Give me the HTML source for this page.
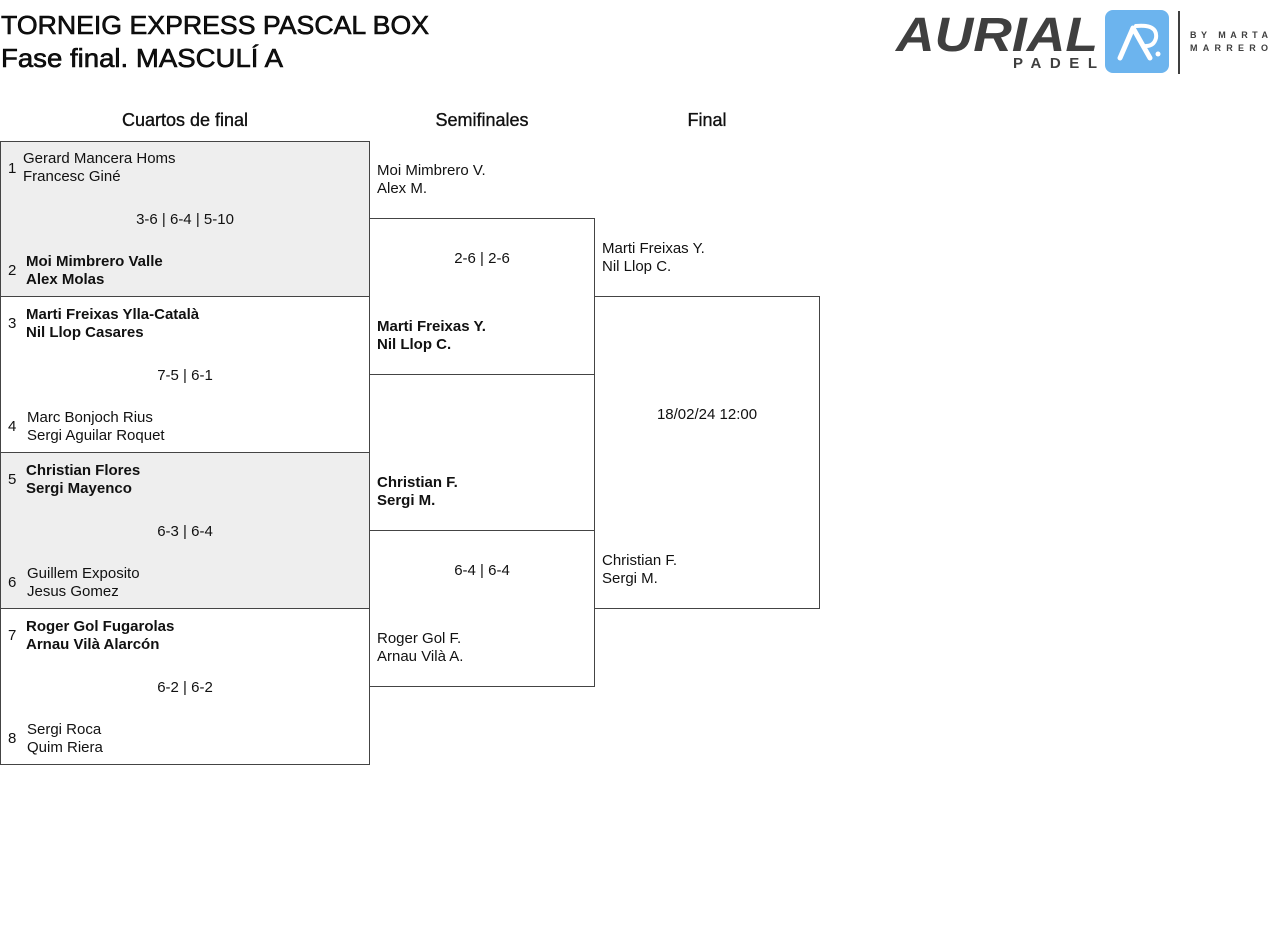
<!DOCTYPE html>
<html><head><meta charset="utf-8"><style>
html,body{margin:0;padding:0;background:#fff;width:1280px;height:949px;overflow:hidden}
svg{display:block}
text{font-family:"Liberation Sans",sans-serif;fill:#111}
.n{font-size:15px}
.b{font-weight:bold}
.h{font-size:18px;stroke:#111;stroke-width:0.35}
.t{stroke:#000;stroke-width:0.6}
</style></head><body>
<svg width="1280" height="949" viewBox="0 0 1280 949">
<text class="t" x="1" y="34" font-size="26" textLength="428" lengthAdjust="spacingAndGlyphs">TORNEIG EXPRESS PASCAL BOX</text>
<text class="t" x="1" y="67" font-size="26" textLength="282" lengthAdjust="spacingAndGlyphs">Fase final. MASCULÍ A</text>
<!-- logo -->
<text x="896" y="51" font-size="48" font-weight="bold" font-style="italic" style="fill:#3f3f3f" textLength="202" lengthAdjust="spacingAndGlyphs">AURIAL</text>
<text x="1013" y="68" font-size="15" font-weight="bold" style="fill:#3f3f3f" textLength="84" lengthAdjust="spacing">PADEL</text>
<rect x="1105" y="10" width="64" height="63" rx="8" fill="#6cb4ee"/>
<path d="M1120 58 L1133 28 L1150 58" stroke="#fff" stroke-width="5" fill="none" stroke-linecap="round" stroke-linejoin="round"/>
<path d="M1136 26 Q1158 24 1156 38 Q1154 46 1146 46" stroke="#fff" stroke-width="4" fill="none" stroke-linecap="round"/>
<circle cx="1158" cy="54" r="2.5" fill="#fff"/>
<rect x="1178" y="11" width="2" height="63" fill="#3f3f3f"/>
<text x="1190" y="38" font-size="9" font-weight="bold" style="fill:#3f3f3f" textLength="78" lengthAdjust="spacing">BY MARTA</text>
<text x="1190" y="51" font-size="9" font-weight="bold" style="fill:#3f3f3f" textLength="78" lengthAdjust="spacing">MARRERO</text>

<text class="h" x="185" y="126" text-anchor="middle">Cuartos de final</text>
<text class="h" x="482" y="126" text-anchor="middle">Semifinales</text>
<text class="h" x="707" y="126" text-anchor="middle">Final</text>

<g stroke="#444" stroke-width="1">
<rect x="0.5" y="141.5" width="369" height="155" fill="#eeeeee"/>
<rect x="0.5" y="296.5" width="369" height="156" fill="#fff"/>
<rect x="0.5" y="452.5" width="369" height="156" fill="#eeeeee"/>
<rect x="0.5" y="608.5" width="369" height="156" fill="#fff"/>
<rect x="369.5" y="218.5" width="225" height="156" fill="none"/>
<rect x="369.5" y="530.5" width="225" height="156" fill="none"/>
<rect x="594.5" y="296.5" width="225" height="312" fill="none"/>
</g>

<g class="n">
<text x="8" y="173" class="n">1</text>
<text x="23" y="163" class="n">Gerard Mancera Homs</text>
<text x="23" y="181" class="n">Francesc Giné</text>
<text x="185" y="224" class="n" text-anchor="middle">3-6 | 6-4 | 5-10</text>
<text x="8" y="275" class="n">2</text>
<text x="26" y="266" class="n b">Moi Mimbrero Valle</text>
<text x="26" y="284" class="n b">Alex Molas</text>

<text x="8" y="328" class="n">3</text>
<text x="26" y="319" class="n b">Marti Freixas Ylla-Català</text>
<text x="26" y="337" class="n b">Nil Llop Casares</text>
<text x="185" y="380" class="n" text-anchor="middle">7-5 | 6-1</text>
<text x="8" y="431" class="n">4</text>
<text x="27" y="422" class="n">Marc Bonjoch Rius</text>
<text x="27" y="440" class="n">Sergi Aguilar Roquet</text>

<text x="8" y="484" class="n">5</text>
<text x="26" y="475" class="n b">Christian Flores</text>
<text x="26" y="493" class="n b">Sergi Mayenco</text>
<text x="185" y="536" class="n" text-anchor="middle">6-3 | 6-4</text>
<text x="8" y="587" class="n">6</text>
<text x="27" y="578" class="n">Guillem Exposito</text>
<text x="27" y="596" class="n">Jesus Gomez</text>

<text x="8" y="640" class="n">7</text>
<text x="26" y="631" class="n b">Roger Gol Fugarolas</text>
<text x="26" y="649" class="n b">Arnau Vilà Alarcón</text>
<text x="185" y="692" class="n" text-anchor="middle">6-2 | 6-2</text>
<text x="8" y="743" class="n">8</text>
<text x="27" y="734" class="n">Sergi Roca</text>
<text x="27" y="752" class="n">Quim Riera</text>

<text x="377" y="175" class="n">Moi Mimbrero V.</text>
<text x="377" y="193" class="n">Alex M.</text>
<text x="482" y="263" class="n" text-anchor="middle">2-6 | 2-6</text>
<text x="377" y="331" class="n b">Marti Freixas Y.</text>
<text x="377" y="349" class="n b">Nil Llop C.</text>

<text x="377" y="487" class="n b">Christian F.</text>
<text x="377" y="505" class="n b">Sergi M.</text>
<text x="482" y="575" class="n" text-anchor="middle">6-4 | 6-4</text>
<text x="377" y="643" class="n">Roger Gol F.</text>
<text x="377" y="661" class="n">Arnau Vilà A.</text>

<text x="602" y="253" class="n">Marti Freixas Y.</text>
<text x="602" y="271" class="n">Nil Llop C.</text>
<text x="707" y="419" class="n" text-anchor="middle">18/02/24 12:00</text>
<text x="602" y="565" class="n">Christian F.</text>
<text x="602" y="583" class="n">Sergi M.</text>
</g>
</svg>
</body></html>
